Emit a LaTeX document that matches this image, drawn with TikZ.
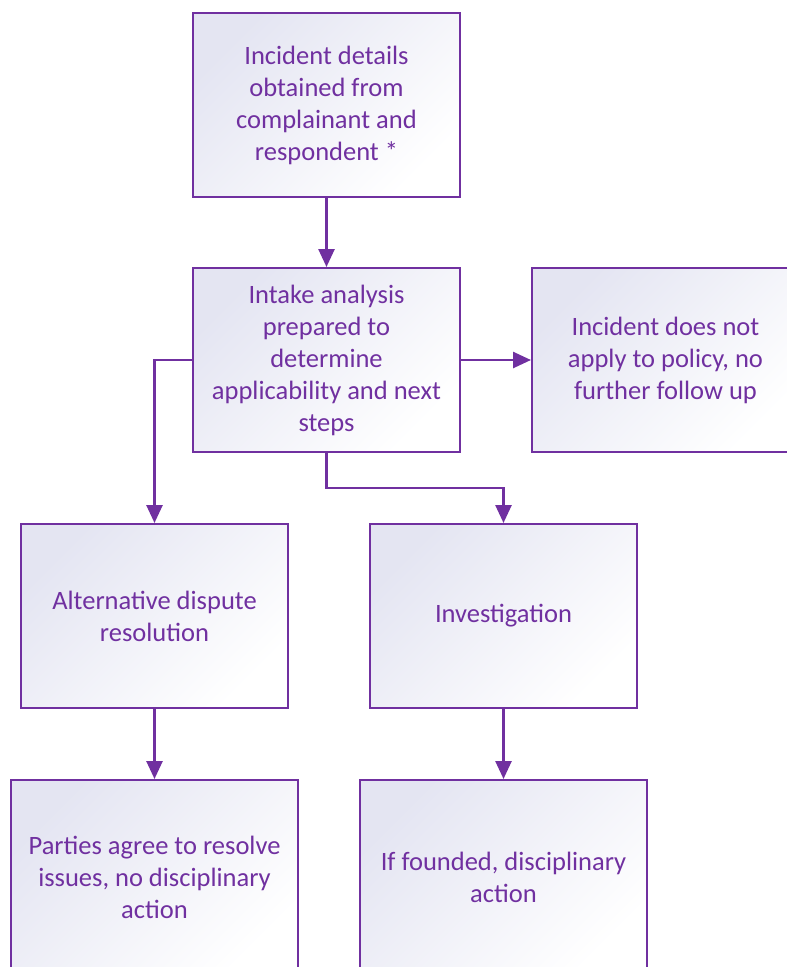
\documentclass[tikz,border=0pt]{standalone}
\usepackage{fontspec}
\setmainfont{Carlito}
\usetikzlibrary{arrows.meta}
\definecolor{purp}{HTML}{7030A0}
\definecolor{lav}{HTML}{E4E5F2}
\definecolor{lavmid}{HTML}{F4F4FA}
\begin{document}
\begin{tikzpicture}[x=1pt,y=-1pt,
  boxstyle/.style={draw=purp, line width=2pt, rectangle, inner sep=0pt,
    minimum width=267pt, minimum height=184pt, align=center,
    text=purp, font=\fontsize{26.5}{32}\selectfont,
    top color=lav, middle color=lavmid, bottom color=white, shading angle=45},
  conn/.style={draw=purp, line width=2.6pt, -{Triangle[width=16pt,length=18pt]}}]
\useasboundingbox (0,0) rectangle (787,967);
\clip (0,0) rectangle (787,967);
\node[boxstyle] (inc) at (326.5,105) {Incident details\\obtained from\\complainant and\\respondent *};
\node[boxstyle] (intake) at (326.5,360) {Intake analysis\\prepared to\\determine\\applicability and next\\steps};
\node[boxstyle] (noapp) at (665.5,360) {Incident does not\\apply to policy, no\\further follow up};
\node[boxstyle] (adr) at (154.5,616) {Alternative dispute\\resolution};
\node[boxstyle] (inv) at (503.5,616) {Investigation};
\node[boxstyle, minimum width=287pt, minimum height=194pt] (agree) at (154.5,877) {Parties agree to resolve\\issues, no disciplinary\\action};
\node[boxstyle, minimum width=287pt, minimum height=194pt] (found) at (503.5,877) {If founded, disciplinary\\action};
\draw[conn] (inc.south) -- (intake.north);
\draw[conn] (intake.west) -| (adr.north);
\draw[conn] (intake.east) -- (noapp.west);
\coordinate (mid) at (326.5,488);
\draw[conn] (intake.south) -- (mid) -| (inv.north);
\draw[conn] (adr.south) -- (agree.north);
\draw[conn] (inv.south) -- (found.north);
\end{tikzpicture}
\end{document}
